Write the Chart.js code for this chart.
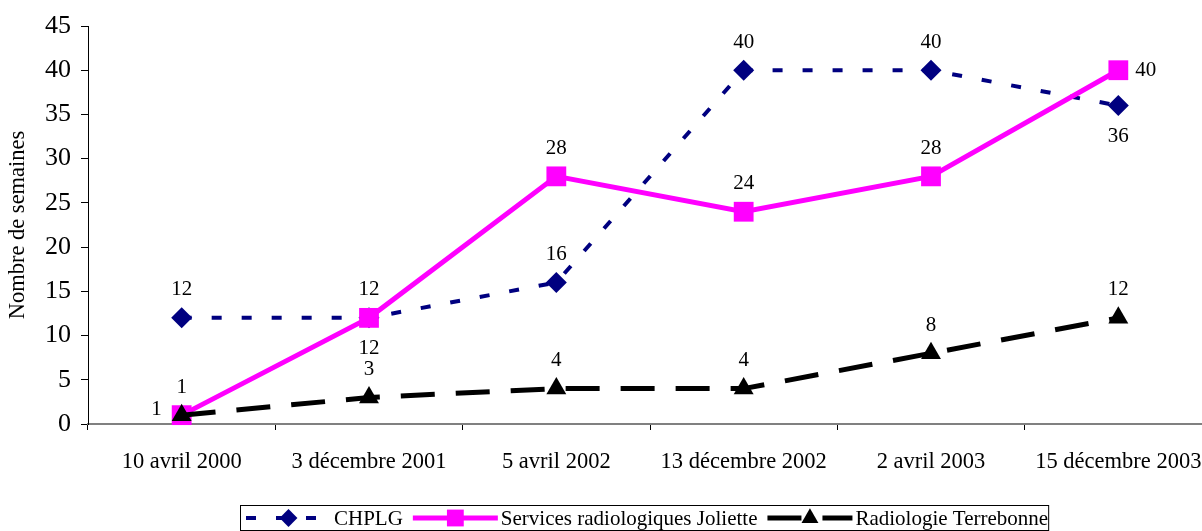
<!DOCTYPE html>
<html lang="fr">
<head>
<meta charset="utf-8">
<title>Nombre de semaines</title>
<script src="https://cdn.jsdelivr.net/npm/chart.js@4.4.1/dist/chart.umd.min.js"></script>
<style>
  html, body { margin: 0; padding: 0; background: #fff; overflow: hidden; }
  #fenetre { width: 1202px; height: 531px; overflow: hidden; }
  #cadre { position: relative; width: 1214px; height: 531px; }
</style>
</head>
<body>
<div id="fenetre"><div id="cadre"><canvas id="graphique"></canvas></div></div>
<script>
// donnees
const categories = ['10 avril 2000', '3 décembre 2001', '5 avril 2002', '13 décembre 2002', '2 avril 2003', '15 décembre 2003'];
const chplg = [12, 12, 16, 40, 40, 36];
const joliette = [1, 12, 28, 24, 28, 40];
const terrebonne = [1, 3, 4, 4, 8, 12];
const yTicks = [0, 5, 10, 15, 20, 25, 30, 35, 40, 45];

// ou placer chaque etiquette autour du point
const chplgPos = ['top', 'bottom', 'top', 'top', 'top', 'bottom'];
const joliettePos = ['top', 'top', 'top', 'top', 'top', 'right'];
const terrebonnePos = ['left', 'top', 'top', 'top', 'top', 'top'];

const police = "'Liberation Serif', 'Times New Roman', serif";
Chart.defaults.font.family = police;
Chart.defaults.color = '#000';

/* etiquettes de valeurs */
const etiquettes = {
  id: 'etiquettes',
  afterDatasetsDraw(chart) {
    const ctx = chart.ctx;
    ctx.save();
    ctx.font = '21px ' + police;
    ctx.fillStyle = '#000';
    ctx.textBaseline = 'middle';
    chart.data.datasets.forEach((ds, i) => {
      const meta = chart.getDatasetMeta(i);
      meta.data.forEach((pt, j) => {
        const pos = ds.labelPos[j];
        let x = pt.x, y = pt.y;
        ctx.textAlign = 'center';
        if (pos === 'top') y -= 28;
        if (pos === 'bottom') y += 31;
        if (pos === 'right') { x += 17; ctx.textAlign = 'left'; }
        if (pos === 'left') { x -= 20; y -= 6; ctx.textAlign = 'right'; }
        ctx.fillText(String(ds.data[j]), x, y);
      });
    });
    ctx.restore();
  }
};

/* legende encadree en bas, avec le trait et le marqueur */
const legende = {
  id: 'legende',
  afterDraw(chart) {
    const ctx = chart.ctx;
    const cy = 518;
    const trait = 85;
    ctx.save();
    ctx.font = '21px ' + police;
    ctx.textBaseline = 'middle';
    const largeurs = chart.data.datasets.map(ds => ctx.measureText(ds.label).width);
    let total = 0;
    largeurs.forEach(w => { total += trait + 3 + w + 10; });
    total += 6 - 10;
    const gauche = Math.round(644 - total / 2);
    ctx.strokeStyle = '#000';
    ctx.lineWidth = 1;
    ctx.strokeRect(gauche + 0.5, 505.5, total, 25);
    let x = gauche + 6;
    chart.data.datasets.forEach((ds, i) => {
      ctx.save();
      ctx.strokeStyle = ds.borderColor;
      ctx.lineWidth = ds.borderWidth;
      ctx.setLineDash(ds.borderDash || []);
      ctx.beginPath();
      ctx.moveTo(x, cy);
      ctx.lineTo(x + trait, cy);
      ctx.stroke();
      ctx.restore();
      ctx.fillStyle = ds.pointBackgroundColor;
      Chart.helpers.drawPoint(ctx, {
        pointStyle: ds.pointStyle,
        radius: ds.pointRadius * 0.85,
        rotation: 0,
        borderWidth: 0
      }, x + trait / 2, cy);
      ctx.fillStyle = '#000';
      ctx.textAlign = 'left';
      ctx.fillText(ds.label, x + trait + 3, cy + 1);
      x += trait + 3 + largeurs[i] + 10;
    });
    ctx.restore();
  }
};

const ctx = document.getElementById('graphique').getContext('2d');
const graphique = new Chart(ctx, {
  type: 'line',
  data: {
    labels: categories,
    datasets: [{
      label: 'CHPLG',
      data: chplg,
      labelPos: chplgPos,
      borderColor: '#000080',
      backgroundColor: '#000080',
      borderWidth: 4,
      borderDash: [10, 20],
      pointStyle: 'rectRot',
      pointRadius: 10.5,
      pointBackgroundColor: '#000080',
      pointBorderWidth: 0,
      order: 3
    }, {
      label: 'Services radiologiques Joliette',
      data: joliette,
      labelPos: joliettePos,
      borderColor: '#FF00FF',
      backgroundColor: '#FF00FF',
      borderWidth: 5,
      pointStyle: 'rect',
      pointRadius: 14,
      pointBackgroundColor: '#FF00FF',
      pointBorderWidth: 0,
      order: 2
    }, {
      label: 'Radiologie Terrebonne',
      data: terrebonne,
      labelPos: terrebonnePos,
      borderColor: '#000000',
      backgroundColor: '#000000',
      borderWidth: 5,
      borderDash: [34, 21],
      pointStyle: 'triangle',
      pointRadius: 11.5,
      pointBackgroundColor: '#000000',
      pointBorderWidth: 0,
      order: 1
    }]
  },
  options: {
    responsive: true,
    maintainAspectRatio: false,
    animation: false,
    devicePixelRatio: 1,
    tension: 0,
    clip: false,
    layout: { autoPadding: false, padding: { top: 26, left: 0, right: 2, bottom: 47 } },
    plugins: {
      legend: { display: false },
      tooltip: { enabled: false }
    },
    scales: {
      x: {
        offset: true,
        afterFit: s => { s.height = 60; s.paddingLeft = 0; s.paddingRight = 0; },
        border: { display: true, color: '#808080', width: 2 },
        grid: { offset: true, drawOnChartArea: false, drawTicks: true, tickLength: 6, color: '#000' },
        ticks: { color: '#000', font: { size: 22.5 }, padding: 19, maxRotation: 0, autoSkip: false }
      },
      y: {
        min: 0,
        max: 45,
        afterBuildTicks: s => { s.ticks = yTicks.map(v => ({ value: v })); },
        afterFit: s => { s.width = 88; s.paddingTop = 0; s.paddingBottom = 0; },
        border: { display: true, color: '#000', width: 1 },
        grid: { drawOnChartArea: false, drawTicks: true, tickLength: 7, color: '#000' },
        ticks: { color: '#000', font: { size: 26 }, padding: 10 },
        title: {
          display: true,
          text: 'Nombre de semaines',
          color: '#000',
          font: { size: 22.5 },
          padding: { top: 5, bottom: 0 }
        }
      }
    }
  },
  plugins: [etiquettes, legende]
});
</script>
</body>
</html>
